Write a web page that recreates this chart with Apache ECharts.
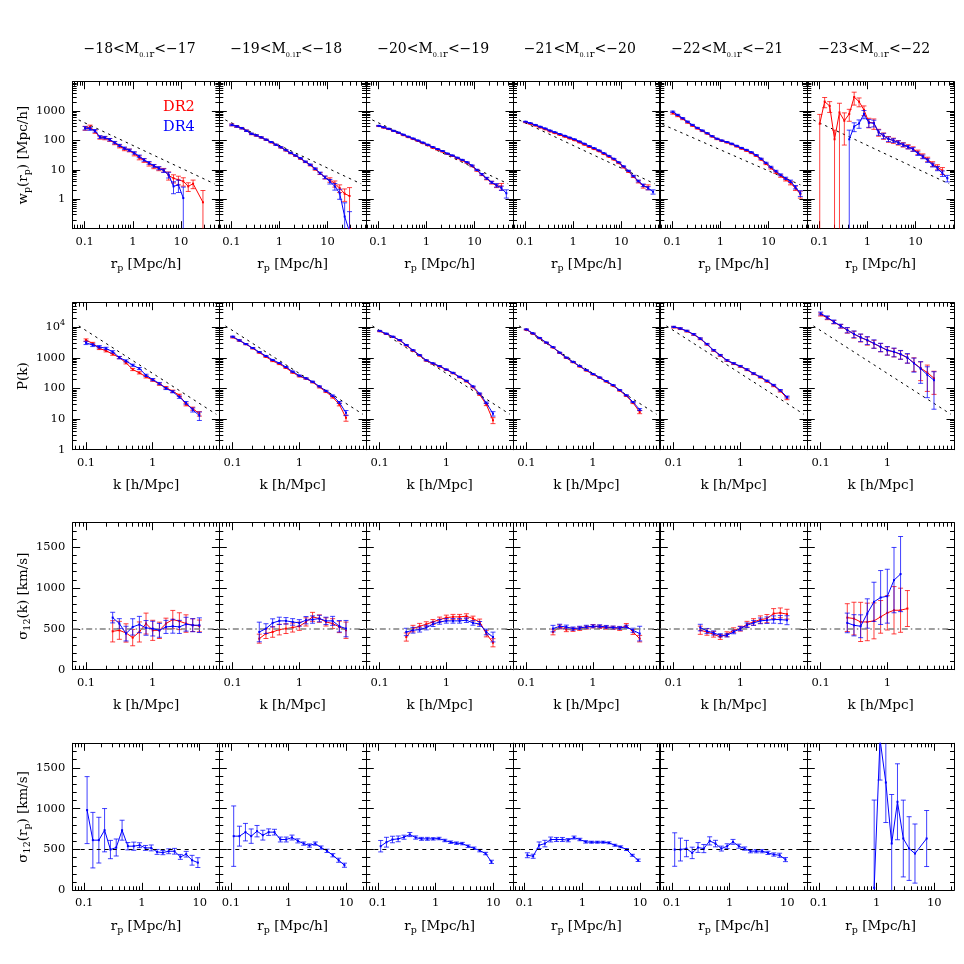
<!DOCTYPE html>
<html><head><meta charset="utf-8">
<script src="https://cdn.jsdelivr.net/npm/echarts@6/dist/echarts.min.js"></script>
<style>html,body{margin:0;padding:0;background:#fff}#c{width:964px;height:964px}</style>
</head><body><div id="c"></div>
<script>
// ---------------- DATA ----------------
const MAG_BINS = ['−18<M{s|0.1}{r|r}<−17','−19<M{s|0.1}{r|r}<−18','−20<M{s|0.1}{r|r}<−19','−21<M{s|0.1}{r|r}<−20','−22<M{s|0.1}{r|r}<−21','−23<M{s|0.1}{r|r}<−22'];

// x positions
const RP  = [0.102,0.129,0.164,0.207,0.262,0.331,0.419,0.53,0.67,0.847,1.07,1.36,1.71,2.17,2.74,3.47,4.39,5.55,7.01,8.87,11.2,14.2,17.9,22.7,28.7,36.3,45.9];
const K   = [0.1,0.126,0.158,0.2,0.251,0.316,0.398,0.501,0.631,0.794,1,1.26,1.58,2,2.51,3.16,3.98,5.01];
const RPV = [0.112,0.141,0.179,0.225,0.284,0.358,0.452,0.57,0.72,0.908,1.146,1.446,1.825,2.3,2.9,3.66,4.62,5.83,7.36,9.28];

// tick labels
const XLAB_RP = [0.1,1,10];
const XLAB_K = [0.1,1];
const YLAB_WP = [1,10,100,1000];
const YLAB_PK = [1,10,100,1000,10000];
const YLAB_SIG = [0,500,1000,1500];

// reference lines
const DASH_WP_X = [0.075,50];
const DASH_WP_Y = [500,3.35];
const DASH_WP5_X = [0.062,46];
const DASH_WP5_Y = [355,3.1];
const DASH_PK_X = [0.078,9];
const DASH_PK_Y = [11000,14.3];
const SIGMA_REF = 500;

// ---- row 1 : w_p(r_p) ----
const wp_dr2_m18 = [263,288,200,126,120,105,81,63,51,46,35,26,21,16,13,11,9.8,6.5,5.2,4.6,4.1,2.75,3.4,null,0.79];
const wp_dr2_m18_err = [40,45,25,15,14,12,9,7,6,5,5,4,3,2.5,2,1.6,1.4,2.0,1.6,1.5,1.3,0.9,1.1,null,1.2];
const wp_dr4_m18 = [263,251,214,132,126,107,85,68,55,47,38,29,22,17.4,13.8,11.5,9.5,6.8,2.75,3.1,1.1];
const wp_dr4_m18_err = [35,30,22,14,12,10,8,6,5,4,3.5,3,2.2,1.8,1.5,1.4,1.3,1.5,1.2,1.4,1.5];

const wp_dr2_m19 = [339,302,263,214,166,148,126,105,87,71,58,46,37,30,24,18.6,14.5,10.5,7.6,5.5,4.6,3.4,2.4,1.55,1.3];
const wp_dr2_m19_err = [25,20,15,12,9,8,6,5,4,3,2.5,2,1.6,1.3,1.0,0.9,0.8,0.7,0.6,0.6,0.8,0.8,0.7,0.7,1.2];
const wp_dr4_m19 = [339,302,263,214,170,150,128,107,89,72,59,47,38,31,25,19,15,11,7.8,5.6,4.0,2.75,1.6,0.26,0.08];
const wp_dr4_m19_err = [20,17,14,11,8,7,5,4,3.5,3,2.4,2,1.5,1.2,1,0.9,0.8,0.7,0.6,0.6,0.7,0.7,0.6,0.5,0.3];

const wp_dr2_m20 = [310,275,245,210,180,152,130,112,96,81,69,57,49,42,35,30,25,21,17.5,13.5,9.6,6.9,5.0,3.7,2.9,2.75];
const wp_dr2_m20_err = [12,10,9,8,6,5,4,3.5,3,2.5,2,1.8,1.5,1.3,1.1,1,0.9,0.8,0.8,0.7,0.6,0.5,0.4,0.4,0.4,0.7];
const wp_dr4_m20 = [316,282,251,214,186,158,135,117,100,85,72,60,51,44,36,31,26,22,18.2,14.1,10,7.1,5.2,3.8,3.0,2.4,1.6];
const wp_dr4_m20_err = [10,9,8,7,5,4,3.5,3,2.5,2,1.8,1.5,1.3,1.1,1,0.9,0.8,0.7,0.6,0.6,0.5,0.4,0.4,0.3,0.4,0.4,0.5];

const wp_dr2_m21 = [420,372,324,278,241,204,178,155,135,117,102,86,72,60,51,43,34.5,28,22.5,17,12.3,8.7,5.9,4.0,2.8,2.6];
const wp_dr2_m21_err = [15,12,10,8,7,6,5,4,3.5,3,2.5,2.2,1.8,1.5,1.3,1.1,0.9,0.8,0.7,0.6,0.6,0.5,0.4,0.4,0.4,0.5];
const wp_dr4_m21 = [437,389,339,295,257,219,191,166,145,126,110,93,78,65,55,46,37,30,24,18.2,13.2,9.3,6.2,4.2,3.0,2.4,1.8];
const wp_dr4_m21_err = [12,10,8,7,6,5,4,3.5,3,2.5,2.2,1.8,1.5,1.3,1.1,0.9,0.8,0.7,0.6,0.5,0.5,0.4,0.35,0.3,0.3,0.3,0.3];

const wp_dr2_m22 = [851,690,540,410,320,258,210,172,137,112,97,86,75,63,53,45,37.5,30,22.5,16,11.5,8.3,6.2,4.7,3.6,2.4,1.5];
const wp_dr2_m22_err = [60,45,30,22,16,12,9,7,6,5,4,3.5,3,2.5,2.2,2,1.7,1.4,1.1,0.9,0.8,0.7,0.6,0.5,0.5,0.4,0.4];
const wp_dr4_m22 = [955,741,575,437,339,269,219,178,141,115,100,89,78,66,56,48,40,32,24,17.4,12.6,9.1,6.8,5.2,4.1,2.6,1.6];
const wp_dr4_m22_err = [45,35,25,18,14,10,8,6,5,4,3.5,3,2.5,2.2,2,1.7,1.4,1.2,1,0.8,0.7,0.6,0.5,0.45,0.4,0.35,0.35];

const wp_dr2_m23 = [370,2100,1500,110,900,470,800,3000,2100,1100,420,390,190,145,112,100,85,72,62,52,40,30,23,16,12.5,9.5];
const wp_dr2_m23_err = [400,800,600,115,950,400,350,1400,700,400,150,150,50,35,25,20,15,12,10,9,7,5,4,3,2.5,2.5];
const wp_dr4_m23 = [null,null,null,null,null,null,110,300,380,800,400,390,190,145,112,100,85,72,60,50,36,28,21,14.8,11.2,7.6,5.2];
const wp_dr4_m23_err = [null,null,null,null,null,null,115,100,120,250,120,100,40,30,20,15,12,10,8,7,5,4,3,2.2,1.8,1.6,1.3];

// ---- row 2 : P(k) ----
const pk_dr2_m18 = [3800,2950,2030,1700,1320,1020,686,417,324,240,186,138,107,81,60,30,22,15];
const pk_dr2_m18_err = [350,250,170,140,110,85,55,35,27,20,15,11,9,7,5,3,2.5,2.5];
const pk_dr4_m18 = [3090,2610,2290,2030,1570,1020,794,575,447,269,195,145,100,78,52,34,20,13];
const pk_dr4_m18_err = [380,280,220,180,140,90,65,45,35,22,16,12,8,6,4.5,3.5,3,4];

const pk_dr2_m19 = [4700,3650,2800,2050,1480,1080,790,630,470,330,250,210,160,110,78,52,30,11];
const pk_dr2_m19_err = [250,180,130,95,70,50,38,30,22,15,12,10,8,6,4.5,3.5,3,2.5];
const pk_dr4_m19 = [4900,3720,2820,2090,1550,1150,851,676,501,355,263,214,166,117,83,58,35,16];
const pk_dr4_m19_err = [200,150,110,85,60,45,35,27,20,14,11,9,7,5,4,3,2.5,3];

const pk_dr2_m20 = [7400,6000,4800,3700,2550,1720,1190,810,640,520,405,315,232,170,110,63,30,9.1];
const pk_dr2_m20_err = [300,240,190,140,100,70,45,32,25,20,16,12,9,7,5,3.5,2.5,2];
const pk_dr4_m20 = [7590,6170,4900,3800,2630,1780,1230,832,661,537,417,324,240,178,117,68,34,15];
const pk_dr4_m20_err = [250,200,160,120,85,60,40,28,22,18,14,11,8,6,4,3,2,2.5];

const pk_dr2_m21 = [8300,6150,4350,3080,2180,1440,990,720,520,385,287,222,168,124,85,57,34,17];
const pk_dr2_m21_err = [300,220,150,110,75,50,35,25,18,13,10,8,6,4.5,3.5,2.5,2,2];
const pk_dr4_m21 = [8510,6310,4470,3160,2240,1480,1020,741,537,398,295,229,174,129,89,60,36,20.4];
const pk_dr4_m21_err = [250,190,130,95,65,45,30,22,16,12,9,7,5,4,3,2,1.5,1.5];

const pk_dr2_m22 = [10000,8900,7400,5750,4150,2750,1730,1190,810,640,520,405,300,232,170,122,82,48];
const pk_dr2_m22_err = [600,520,440,340,240,160,100,70,48,38,30,24,18,14,10,8,6,5];
const pk_dr4_m22 = [10200,9120,7590,5890,4270,2820,1780,1230,832,661,537,417,309,240,178,129,87,52.5];
const pk_dr4_m22_err = [500,450,380,300,210,140,90,60,42,33,27,21,16,12,9,7,5,4];

const pk_dr2_m23 = [26000,20000,14800,10800,8000,5900,4600,3700,2900,2250,1750,1550,1300,1000,680,460,330,214];
const pk_dr2_m23_err = [2800,2400,1900,1500,1600,1500,1300,1100,850,680,530,480,400,330,320,280,250,150];
const pk_dr4_m23 = [28200,20900,15100,11000,8130,6030,4680,3800,2950,2290,1780,1580,1320,1020,661,447,280,186];
const pk_dr4_m23_err = [3000,2500,2000,1500,1600,1500,1300,1100,900,700,550,500,420,350,320,300,230,165];

// ---- row 3 : sigma12(k) ----
const sk_dr2_m18 = [null,null,null,null,470,482,450,393,462,565,482,482,565,614,594,565,545,536];
const sk_dr2_m18_err = [null,null,null,null,130,110,112,100,123,128,123,100,66,112,103,107,78,72];
const sk_dr4_m18 = [null,null,null,null,638,565,442,524,553,512,503,482,524,532,524,557,545,545];
const sk_dr4_m18_err = [null,null,null,null,65,60,90,100,100,90,90,85,80,85,80,85,80,90];

const sk_dr2_m19 = [null,null,null,null,380,442,462,491,503,516,532,585,647,626,585,565,524,483];
const sk_dr2_m19_err = [null,null,null,null,55,60,65,65,60,55,50,50,55,45,50,60,70,100];
const sk_dr4_m19 = [null,null,null,null,462,503,573,598,598,585,573,606,614,626,598,598,532,503];
const sk_dr4_m19_err = [null,null,null,null,120,60,50,45,40,40,40,45,45,40,45,55,70,100];

const sk_dr2_m20 = [null,null,null,null,400,503,532,557,585,614,638,647,647,655,626,585,442,330];
const sk_dr2_m20_err = [null,null,null,null,50,40,35,30,30,30,30,30,30,30,30,35,40,50];
const sk_dr4_m20 = [null,null,null,null,462,483,491,516,557,585,598,598,598,606,573,560,462,400];
const sk_dr4_m20_err = [null,null,null,null,45,35,30,28,28,28,28,28,28,28,28,30,35,60];

const sk_dr2_m21 = [null,null,null,null,462,524,491,491,503,516,532,524,516,512,503,540,462,380];
const sk_dr2_m21_err = [null,null,null,null,35,25,25,22,22,20,20,20,20,20,22,25,30,40];
const sk_dr4_m21 = [null,null,null,null,503,532,524,503,512,524,532,532,524,516,512,524,483,442];
const sk_dr4_m21_err = [null,null,null,null,40,25,22,20,20,20,18,18,18,18,18,20,25,90];

const sk_dr2_m22 = [null,null,null,null,483,462,434,401,434,483,503,557,585,614,626,688,696,680];
const sk_dr2_m22_err = [null,null,null,null,50,40,35,30,30,30,30,35,40,45,50,60,60,60];
const sk_dr4_m22 = [null,null,null,null,516,475,450,421,421,462,503,544,573,598,606,614,614,606];
const sk_dr4_m22_err = [null,null,null,null,40,30,25,20,20,22,25,28,30,35,40,45,50,55];

const sk_dr2_m23 = [null,null,null,null,638,626,585,585,598,647,696,728,728,749];
const sk_dr2_m23_err = [null,null,null,null,170,200,240,230,220,200,210,290,270,220];
const sk_dr4_m23 = [null,null,null,null,573,544,532,688,831,884,900,1097,1171];
const sk_dr4_m23_err = [null,null,null,null,120,130,140,180,240,330,330,400,460];

// ---- row 4 : sigma12(r_p), DR4 only ----
const sr_dr4_m18 = [982,614,614,736,499,524,736,540,540,552,519,519,470,462,478,478,409,442,368,339];
const sr_dr4_m18_err = [410,340,280,265,112,104,122,45,50,30,30,36,30,26,30,35,30,35,60,60];
const sr_dr4_m19 = [663,663,712,663,724,675,712,712,622,622,646,605,572,548,572,523,483,429,368,307];
const sr_dr4_m19_err = [370,122,107,88,70,60,40,35,30,30,30,25,20,20,20,20,20,20,25,25];
const sr_dr4_m20 = [540,589,622,630,650,683,646,630,630,630,634,610,589,577,572,540,515,486,450,348];
const sr_dr4_m20_err = [70,60,40,35,25,25,20,18,18,15,15,15,15,15,15,15,15,15,15,20];
const sr_dr4_m21 = [429,417,552,572,622,622,622,614,646,622,593,589,589,589,581,552,532,499,429,368];
const sr_dr4_m21_err = [30,25,40,40,30,25,25,20,18,15,15,12,12,12,12,12,12,12,12,15];
const sr_dr4_m22 = [499,499,511,458,524,511,605,572,511,540,593,540,511,479,479,479,458,438,429,376];
const sr_dr4_m22_err = [205,140,100,70,60,50,50,40,30,30,30,25,20,20,20,20,20,20,25,25];
const sr_dr4_m23 = [null,null,null,null,null,null,null,null,null,30,1850,1320,573,1084,634,511,450,null,634];
const sr_dr4_m23_err = [null,null,null,null,null,null,null,null,null,1075,500,490,600,465,470,390,362,null,343];

// ---------------- LAYOUT / STYLE ----------------
const FONT = 'DejaVu Serif';
const COL_LEFT = [72.7, 219.3, 366.3, 513, 660.3, 807.3];
const ROW_TOP = [81.7, 302.7, 522.7, 743.3];
const PW = 146.7, PH = 147;
const RED = '#ff0000', BLUE = '#0000ff';

const ROWS = [
  { xs: RP, x: {log:true, min:0.0562, max:63.1, labels:XLAB_RP}, xName:'r{sub|p} [Mpc/h]',
    y: {log:true, min:0.1, max:10000, labels:YLAB_WP}, yName:'w{sub|p}(r{sub|p}) [Mpc/h]',
    dr2:[wp_dr2_m18,wp_dr2_m19,wp_dr2_m20,wp_dr2_m21,wp_dr2_m22,wp_dr2_m23],
    dr2e:[wp_dr2_m18_err,wp_dr2_m19_err,wp_dr2_m20_err,wp_dr2_m21_err,wp_dr2_m22_err,wp_dr2_m23_err],
    dr4:[wp_dr4_m18,wp_dr4_m19,wp_dr4_m20,wp_dr4_m21,wp_dr4_m22,wp_dr4_m23],
    dr4e:[wp_dr4_m18_err,wp_dr4_m19_err,wp_dr4_m20_err,wp_dr4_m21_err,wp_dr4_m22_err,wp_dr4_m23_err],
    dash: c => c === 4 ? [DASH_WP5_X, DASH_WP5_Y] : [DASH_WP_X, DASH_WP_Y] },
  { xs: K, x: {log:true, min:0.0631, max:10, labels:XLAB_K}, xName:'k [h/Mpc]',
    y: {log:true, min:1, max:63096, labels:YLAB_PK}, yName:'P(k)',
    dr2:[pk_dr2_m18,pk_dr2_m19,pk_dr2_m20,pk_dr2_m21,pk_dr2_m22,pk_dr2_m23],
    dr2e:[pk_dr2_m18_err,pk_dr2_m19_err,pk_dr2_m20_err,pk_dr2_m21_err,pk_dr2_m22_err,pk_dr2_m23_err],
    dr4:[pk_dr4_m18,pk_dr4_m19,pk_dr4_m20,pk_dr4_m21,pk_dr4_m22,pk_dr4_m23],
    dr4e:[pk_dr4_m18_err,pk_dr4_m19_err,pk_dr4_m20_err,pk_dr4_m21_err,pk_dr4_m22_err,pk_dr4_m23_err],
    dash: c => [DASH_PK_X, DASH_PK_Y] },
  { xs: K, x: {log:true, min:0.0631, max:10, labels:XLAB_K}, xName:'k [h/Mpc]',
    y: {log:false, min:0, max:1800, labels:YLAB_SIG}, yName:'σ{sub|12}(k) [km/s]',
    dr2:[sk_dr2_m18,sk_dr2_m19,sk_dr2_m20,sk_dr2_m21,sk_dr2_m22,sk_dr2_m23],
    dr2e:[sk_dr2_m18_err,sk_dr2_m19_err,sk_dr2_m20_err,sk_dr2_m21_err,sk_dr2_m22_err,sk_dr2_m23_err],
    dr4:[sk_dr4_m18,sk_dr4_m19,sk_dr4_m20,sk_dr4_m21,sk_dr4_m22,sk_dr4_m23],
    dr4e:[sk_dr4_m18_err,sk_dr4_m19_err,sk_dr4_m20_err,sk_dr4_m21_err,sk_dr4_m22_err,sk_dr4_m23_err],
    ref: {color:'#808080', type:[6,3,1.5,3], width:1.6} },
  { xs: RPV, x: {log:true, min:0.0631, max:21.9, labels:XLAB_RP}, xName:'r{sub|p} [Mpc/h]',
    y: {log:false, min:0, max:1800, labels:YLAB_SIG}, yName:'σ{sub|12}(r{sub|p}) [km/s]',
    dr2:null, dr2e:null,
    dr4:[sr_dr4_m18,sr_dr4_m19,sr_dr4_m20,sr_dr4_m21,sr_dr4_m22,sr_dr4_m23],
    dr4e:[sr_dr4_m18_err,sr_dr4_m19_err,sr_dr4_m20_err,sr_dr4_m21_err,sr_dr4_m22_err,sr_dr4_m23_err],
    ref: {color:'#000', type:[4,4], width:1} }
];

function logTicks(min, max, mults) {
  const out = [];
  const e0 = Math.floor(Math.log10(min)) - 1, e1 = Math.ceil(Math.log10(max)) + 1;
  for (let e = e0; e <= e1; e++) for (const m of mults) {
    const v = Number((m * Math.pow(10, e)).toPrecision(8));
    if (v >= min * 0.9999 && v <= max * 1.0001) out.push(v);
  }
  return out;
}
function linTicks(min, max, step, skip) {
  const out = [];
  for (let v = min; v <= max + 1e-9; v += step) if (!skip || v % skip !== 0) out.push(v);
  return out;
}
function fmtLabel(v) {
  const r = Number(Number(v).toPrecision(6));
  return r === 10000 ? '10{sup|4}' : String(r);
}

const NAME_RICH = { sub: { fontSize: 9.5, lineHeight: 10, verticalAlign: 'bottom', fontFamily: FONT, color:'#000' } };

function buildAxes(dim, gi, cfg, showLabels, name) {
  const majors = cfg.log ? logTicks(cfg.min, cfg.max, [1]) : linTicks(cfg.min, cfg.max, 500);
  const minors = cfg.log ? logTicks(cfg.min, cfg.max, [2,3,4,5,6,7,8,9]) : linTicks(cfg.min, cfg.max - 1, 100, 500);
  const base = { gridIndex: gi, type: cfg.log ? 'log' : 'value', min: cfg.min, max: cfg.max, splitLine: {show:false}, silent: true };
  if (cfg.log) base.logBase = 10;
  const pos = dim === 'x' ? ['bottom','top'] : ['left','right'];
  const axes = [];
  pos.forEach((p, pi) => {
    const major = Object.assign({}, base, {
      position: p,
      axisLine: {show:true, onZero:false, lineStyle:{color:'#000', width:1}},
      axisTick: {show:true, inside:true, length:7.5, customValues: majors, lineStyle:{color:'#000', width:1}},
      axisLabel: {show:false}
    });
    if (pi === 0 && showLabels) {
      major.axisLabel = {
        show: true, customValues: cfg.labels, margin: dim === 'x' ? 5 : 7.5,
        color: '#000', fontFamily: FONT, fontSize: 11.5, formatter: fmtLabel,
        lineHeight: 16,
        rich: { sup: { fontSize: 8, lineHeight: 8, verticalAlign: 'top', fontFamily: FONT, color:'#000' } }
      };
    }
    if (pi === 0 && name) {
      major.name = name;
      major.nameLocation = 'middle';
      major.nameGap = dim === 'x' ? 27 : 37;
      major.nameTextStyle = { fontFamily: FONT, fontSize: 13.5, color: '#000', lineHeight: 18, rich: NAME_RICH };
    }
    axes.push(major);
    axes.push(Object.assign({}, base, {
      position: p,
      axisLine: {show:false, onZero:false},
      axisTick: {show:true, inside:true, length:4, customValues: minors, lineStyle:{color:'#000', width:1}},
      axisLabel: {show:false}
    }));
  });
  return axes;
}

function pairs(xs, ys) {
  const d = [];
  xs.forEach((x, i) => { if (ys[i] != null) d.push([x, ys[i]]); });
  return d;
}
function triples(xs, ys, es) {
  const d = [];
  xs.forEach((x, i) => { if (ys[i] != null && es[i] != null) d.push([x, ys[i], es[i]]); });
  return d;
}
function makeErrRender(color, logY) {
  return function (params, api) {
    const x = api.value(0), y = api.value(1), e = api.value(2);
    const cs = params.coordSys;
    const top = cs.y, bot = cs.y + cs.height;
    const px = api.coord([x, y])[0];
    const lo = y - e, hi = y + e;
    let pLo = (logY && lo <= 0) ? Infinity : api.coord([x, lo])[1];
    if (isNaN(pLo)) pLo = Infinity;
    let pHi = api.coord([x, hi])[1];
    const capLo = pLo <= bot, capHi = pHi >= top;
    pLo = Math.min(pLo, bot); pHi = Math.max(pHi, top);
    if (pHi >= pLo) return null;
    const mk = (x1, y1, x2, y2) => ({ type: 'line', shape: {x1, y1, x2, y2}, style: {stroke: color, lineWidth: 1} });
    const ch = [mk(px, pLo, px, pHi)];
    if (capLo) ch.push(mk(px - 2.5, pLo, px + 2.5, pLo));
    if (capHi) ch.push(mk(px - 2.5, pHi, px + 2.5, pHi));
    return { type: 'group', children: ch };
  };
}

const grids = [], xAxes = [], yAxes = [], series = [];
ROWS.forEach((row, r) => {
  COL_LEFT.forEach((L, c) => {
    const gi = r * 6 + c;
    grids.push({ left: L, top: ROW_TOP[r], width: PW, height: PH, containLabel: false });
    xAxes.push(...buildAxes('x', gi, row.x, true, row.xName));
    yAxes.push(...buildAxes('y', gi, row.y, c === 0, c === 0 ? row.yName : null));
    const ax = { xAxisIndex: gi * 4, yAxisIndex: gi * 4 };
    const logY = row.y.log;
    if (row.dash) {
      const [dx, dy] = row.dash(c);
      series.push(Object.assign({ type: 'line', data: pairs(dx, dy), symbol: 'none', silent: true, z: 1,
        lineStyle: { color: '#000', width: 1, type: [2.5, 4] } }, ax));
    }
    const groups = [];
    if (row.dr2) groups.push(['DR2', RED, 'rgba(255,0,0,0.75)', row.dr2[c], row.dr2e[c]]);
    groups.push(['DR4', BLUE, 'rgba(0,0,255,0.75)', row.dr4[c], row.dr4e[c]]);
    groups.forEach(([nm, col, ecol, ys, es], gidx) => {
      series.push(Object.assign({ type: 'custom', name: nm, renderItem: makeErrRender(ecol, logY),
        data: triples(row.xs, ys, es), silent: true, z: 2 + gidx * 2, clip: true,
        encode: { x: 0, y: 1 }, itemStyle: { color: col } }, ax));
      const ls = Object.assign({ type: 'line', name: nm, data: pairs(row.xs, ys), symbol: 'rect', symbolSize: 2,
        showSymbol: true, connectNulls: true, clip: true, silent: true, z: 3 + gidx * 2,
        lineStyle: { color: col, width: 1 }, itemStyle: { color: col } }, ax);
      if (row.ref && gidx === 0) {
        ls.markLine = { silent: true, symbol: ['none','none'], label: {show:false}, animation: false,
          lineStyle: { color: row.ref.color, type: row.ref.type, width: row.ref.width },
          emphasis: { disabled: true }, data: [{ yAxis: SIGMA_REF }] };
      }
      series.push(ls);
    });
  });
});

const TITLE_RICH = {
  s: { fontSize: 6.5, lineHeight: 14, verticalAlign: 'bottom', fontFamily: FONT, fill: '#000' },
  r: { fontSize: 10, lineHeight: 10, verticalAlign: 'bottom', fontFamily: FONT, fill: '#000' }
};
const graphics = MAG_BINS.map((t, c) => ({
  type: 'text', silent: true,
  x: COL_LEFT[c] + PW / 2 - 6.5, y: 49,
  style: { text: t, rich: TITLE_RICH, fontFamily: FONT, fontSize: 14, lineHeight: 20, fill: '#000',
    align: 'center', verticalAlign: 'middle', textAlign: 'center', textVerticalAlign: 'middle' }
}));

const chart = echarts.init(document.getElementById('c'), null, { renderer: 'canvas' });
chart.setOption({
  backgroundColor: '#fff',
  animation: false,
  grid: grids,
  xAxis: xAxes,
  yAxis: yAxes,
  legend: {
    data: [{ name: 'DR2', textStyle: { color: RED } }, { name: 'DR4', textStyle: { color: BLUE } }],
    orient: 'vertical', left: 153, top: 94, itemWidth: 0, itemHeight: 0, itemGap: 4,
    selectedMode: false, icon: 'rect',
    textStyle: { fontFamily: FONT, fontSize: 14.5, lineHeight: 16 }
  },
  graphic: { elements: graphics },
  series: series
});
</script></body></html>
